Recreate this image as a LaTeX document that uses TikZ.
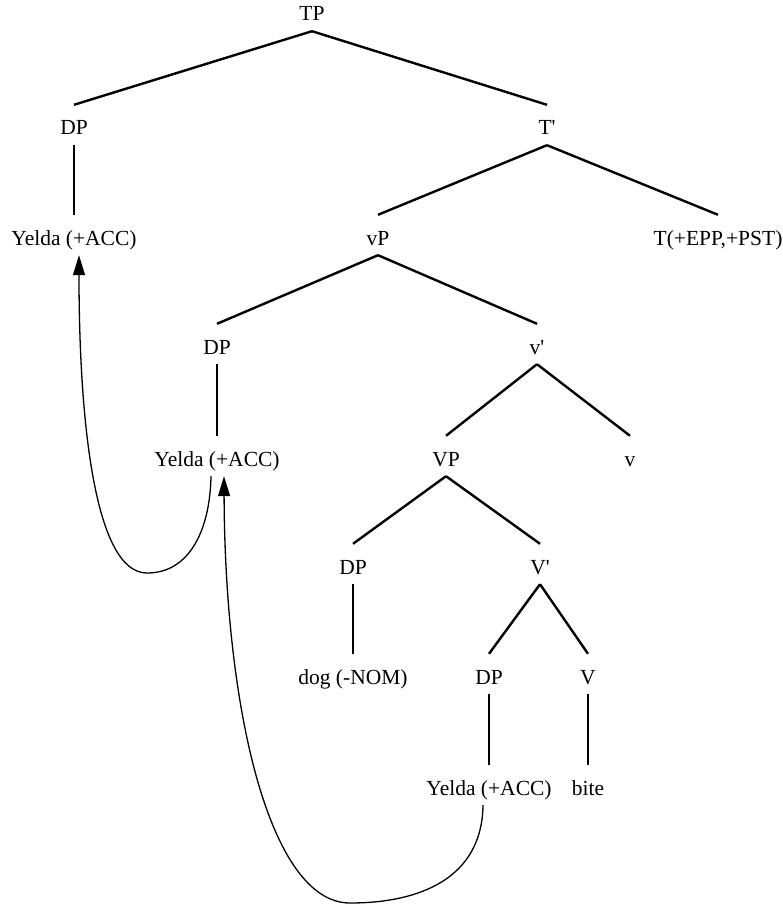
\documentclass[tikz,border=0pt]{standalone}
\usepackage{fontspec}
\setmainfont{Liberation Serif}
\usetikzlibrary{arrows.meta}

\tikzset{
  lbl/.style={anchor=base, inner sep=0pt, text height=30pt, text depth=10pt,
              font=\fontsize{21.5pt}{25pt}\selectfont},
  branch/.style={line width=2.4pt},
  unary/.style={line width=1.3pt},
  move/.style={line width=1.3pt, -{Triangle[length=20pt,width=12pt]}}
}

\begin{document}
\begin{tikzpicture}[x=1pt, y=1pt]
  \useasboundingbox (0,0) rectangle (783,-909);

  % tree nodes
  \node[lbl] (tp)   at (312,-21)  {TP};
  \node[lbl] (dp1)  at (74,-135)  {DP};
  \node[lbl] (tbar) at (547,-135) {T\textquotesingle};
  \node[lbl] (y1)   at (74,-245)  {Yelda (+ACC)};
  \node[lbl] (vp)   at (378,-245) {vP};
  \node[lbl] (thd)  at (718,-245) {T(+EPP,+PST)};
  \node[lbl] (dp2)  at (217,-354) {DP};
  \node[lbl] (vbar) at (537,-354) {v\textquotesingle};
  \node[lbl] (y2)   at (217,-466) {Yelda (+ACC)};
  \node[lbl] (bigvp) at (446,-466) {VP};
  \node[lbl] (vhd)  at (630,-466) {v};
  \node[lbl] (dp3)  at (353,-574) {DP};
  \node[lbl] (vbbar) at (540,-574) {V\textquotesingle};
  \node[lbl] (dog)  at (353,-684) {dog (-NOM)};
  \node[lbl] (dp4)  at (489,-684) {DP};
  \node[lbl] (vhead) at (588,-684) {V};
  \node[lbl] (y3)   at (489,-795) {Yelda (+ACC)};
  \node[lbl] (bite) at (588,-795) {bite};

  % branching edges
  \draw[branch] (tp.south) -- (dp1.north);
  \draw[branch] (tp.south) -- (tbar.north);
  \draw[branch] (tbar.south) -- (vp.north);
  \draw[branch] (tbar.south) -- (thd.north);
  \draw[branch] (vp.south) -- (dp2.north);
  \draw[branch] (vp.south) -- (vbar.north);
  \draw[branch] (vbar.south) -- (bigvp.north);
  \draw[branch] (vbar.south) -- (vhd.north);
  \draw[branch] (bigvp.south) -- (dp3.north);
  \draw[branch] (bigvp.south) -- (vbbar.north);
  \draw[branch] (vbbar.south) -- (dp4.north);
  \draw[branch] (vbbar.south) -- (vhead.north);

  % unary edges
  \draw[unary] (dp1.south) -- (y1.north);
  \draw[unary] (dp2.south) -- (y2.north);
  \draw[unary] (dp3.south) -- (dog.north);
  \draw[unary] (dp4.south) -- (y3.north);
  \draw[unary] (vhead.south) -- (bite.north);

  % movement arrows
  \coordinate (bend1) at (147,-573);
  \coordinate (bend2) at (350,-903);
  \draw[move] ([xshift=-6pt]y2.south)
      .. controls +(-1,-53) and +(43,0) .. (bend1)
      .. controls +(-52,0) and +(0,-168) .. ([xshift=5pt]y1.south);
  \draw[move] ([xshift=-6pt]y3.south)
      .. controls +(-1,-73) and +(70,0) .. (bend2)
      .. controls +(-80,0) and +(1,-235) .. ([xshift=7pt]y2.south);
\end{tikzpicture}
\end{document}
